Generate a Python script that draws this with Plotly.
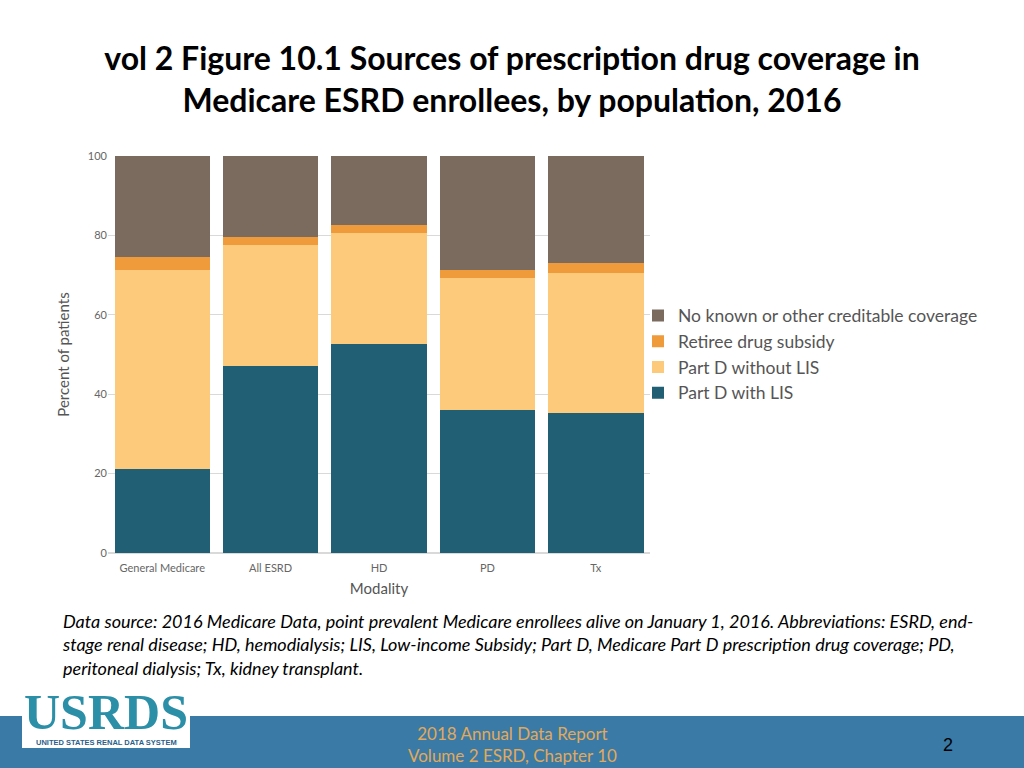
import plotly.graph_objects as go

categories = ["General Medicare", "All ESRD", "HD", "PD", "Tx"]
part_d_lis = [21.2, 47.1, 52.6, 36.0, 35.3]
part_d_no_lis = [50.1, 30.5, 28.0, 33.3, 35.2]
retiree = [3.3, 2.0, 2.0, 2.0, 2.5]
no_known = [25.4, 20.4, 17.4, 28.7, 27.0]

series = [
    ("Part D with LIS", part_d_lis, "#215f74"),
    ("Part D without LIS", part_d_no_lis, "#fdc97a"),
    ("Retiree drug subsidy", retiree, "#ef9a3b"),
    ("No known or other creditable coverage", no_known, "#7b6a5e"),
]

fig = go.Figure()
for name, vals, col in series:
    fig.add_trace(go.Bar(x=categories, y=vals, name=name, marker_color=col, marker_line_width=0))

F = "Lato"
fig.update_layout(
    barmode="stack", bargap=0.12,
    width=1024, height=768, paper_bgcolor="white", plot_bgcolor="white",
    margin=dict(l=0, r=0, t=0, b=0),
    font=dict(family=F),
    title=dict(text="<b>vol 2 Figure 10.1 Sources of prescription drug coverage in<br>Medicare ESRD enrollees, by population, 2016</b>",
               x=0.5, xanchor="center", y=1-70/768, yanchor="middle", font=dict(size=32, color="black", family=F)),
    xaxis=dict(domain=[108/1024, 650/1024], tickfont=dict(size=11, color="#666"), automargin=False,
               ticks="outside", ticklen=5, tickcolor="rgba(0,0,0,0)",
               title=dict(text="Modality", font=dict(size=15, color="#555"), standoff=10), showline=False),
    yaxis=dict(domain=[1-553/768, 1-156/768], range=[0, 100], dtick=20, tickfont=dict(size=11, color="#666"),
               gridcolor="#d9d9d9", zeroline=True, zerolinecolor="#d9d9d9", automargin=False,
               title=dict(text="Percent of patients", font=dict(size=15, color="#555"), standoff=14)),
    legend=dict(x=638/1024, y=1-354/768, yanchor="middle", traceorder="reversed", bgcolor="rgba(0,0,0,0)",
                font=dict(size=17.5, color="#555"), itemwidth=30, tracegroupgap=0),
    shapes=[
        dict(type="rect", xref="paper", yref="paper", x0=0, x1=1, y0=0, y1=52/768,
             fillcolor="#3a7aa6", line_width=0, layer="below"),
        dict(type="rect", xref="paper", yref="paper", x0=22/1024, x1=190/1024, y0=20/768, y1=80/768,
             fillcolor="white", line_width=0),
    ],
    annotations=[
        dict(text="<i>Data source: 2016 Medicare Data, point prevalent Medicare enrollees alive on January 1, 2016. Abbreviations: ESRD, end-<br>stage renal disease; HD, hemodialysis; LIS, Low-income Subsidy; Part D, Medicare Part D prescription drug coverage; PD,<br>peritoneal dialysis; Tx, kidney transplant.</i>",
             xref="paper", yref="paper", x=60/1024, y=1-608/768, xanchor="left", yanchor="top",
             align="left", showarrow=False, font=dict(size=18, color="black")),
        dict(text="<b>USRDS</b>", xref="paper", yref="paper", x=106/1024, y=1-712/768, xanchor="center", yanchor="middle",
             showarrow=False, font=dict(size=50, color="#2b8fa8", family="Liberation Serif")),
        dict(text="<b>UNITED STATES RENAL DATA SYSTEM</b>", xref="paper", yref="paper", x=106/1024, y=1-742/768,
             xanchor="center", yanchor="middle",
             showarrow=False, font=dict(size=7.5, color="#2b5f8a", family="Liberation Sans")),
        dict(text="2018 Annual Data Report<br>Volume 2 ESRD, Chapter 10", xref="paper", yref="paper",
             x=512/1024, y=1-744/768, xanchor="center", yanchor="middle", showarrow=False,
             font=dict(size=17, color="#e2a95a")),
        dict(text="2", xref="paper", yref="paper", x=948/1024, y=1-745/768, xanchor="center", yanchor="middle",
             showarrow=False, font=dict(size=18, color="black", family="Liberation Sans")),
    ],
)
fig.write_html("out.html", config={"displayModeBar": False}, post_script="document.body.style.margin='0';")
